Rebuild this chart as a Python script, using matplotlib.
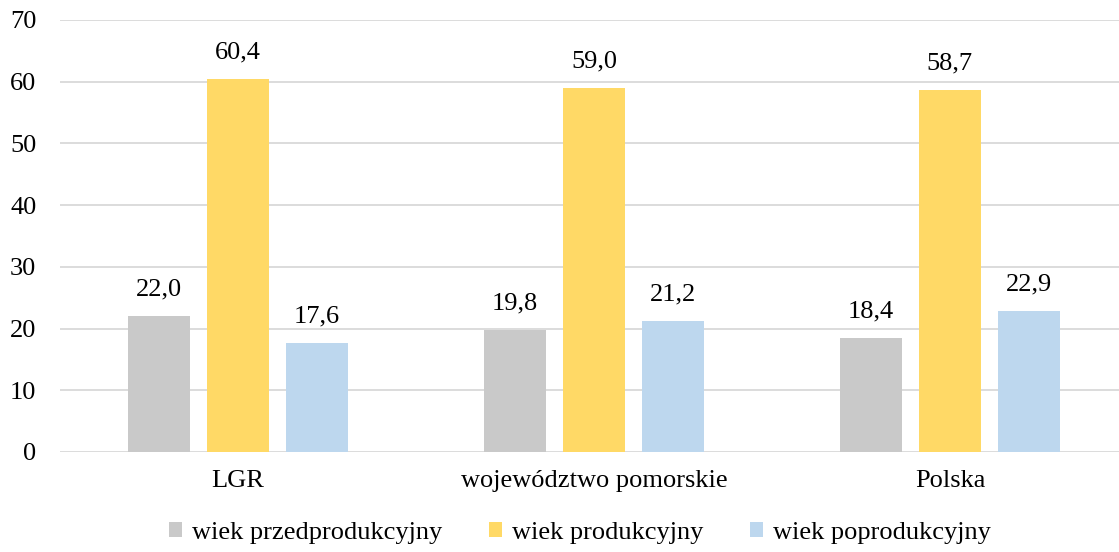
"""Struktura ludności według ekonomicznych grup wieku."""

import matplotlib

matplotlib.use("Agg")
import matplotlib.pyplot as plt
import numpy as np

categories = ["LGR", "województwo pomorskie", "Polska"]
series_names = ["wiek przedprodukcyjny", "wiek produkcyjny", "wiek poprodukcyjny"]
przedprodukcyjny = [22.0, 19.8, 18.4]
produkcyjny = [60.4, 59.0, 58.7]
poprodukcyjny = [17.6, 21.2, 22.9]
y_ticks = [0, 10, 20, 30, 40, 50, 60, 70]

colors = ["#C9C9C9", "#FFD966", "#BDD7EE"]

plt.rcParams["font.family"] = ["Liberation Serif", "DejaVu Serif"]
FS = 19

fig = plt.figure(figsize=(11.19, 5.52), dpi=100)
ax = fig.add_axes([60 / 1119, 1 - 452 / 552, 1059 / 1119, 432 / 552])

x = np.arange(len(categories))
width = 0.175
step = 0.222
for i, (vals, name) in enumerate(zip([przedprodukcyjny, produkcyjny, poprodukcyjny], series_names)):
    pos = x + (i - 1) * step
    bars = ax.bar(pos, vals, width=width, color=colors[i], label=name, zorder=3)
    for b, v in zip(bars, vals):
        ax.text(b.get_x() + b.get_width() / 2, v + 4.3, f"{v:.1f}".replace(".", ","),
                ha="center", va="center", fontsize=FS)

ax.set_xlim(-0.5, 2.475)
ax.set_ylim(0, 70)
ax.set_yticks(y_ticks)
ax.set_xticks(x)
ax.set_xticklabels(categories)
ax.tick_params(axis="both", length=0, labelsize=FS)
ax.tick_params(axis="x", pad=13)
ax.tick_params(axis="y", pad=17)
ax.yaxis.grid(True, color="#D9D9D9", linewidth=1.3, zorder=0)
for s in ax.spines.values():
    s.set_visible(False)

fig.legend(loc="center", bbox_to_anchor=(580 / 1119, 1 - 533 / 552), ncol=3, frameon=False,
           fontsize=FS, handlelength=0.5, handleheight=0.5, handletextpad=0.38,
           columnspacing=1.75)

fig.savefig("out.png", dpi=100)
plt.close(fig)
